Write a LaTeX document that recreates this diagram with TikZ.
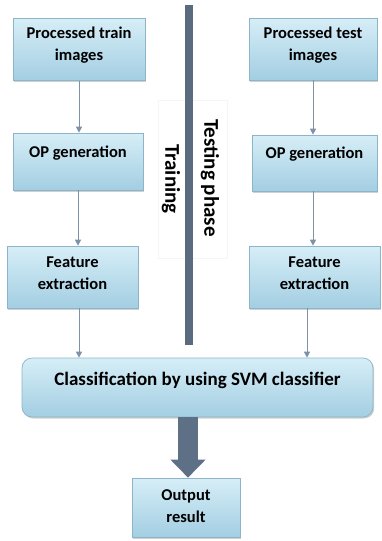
\documentclass[tikz,border=0pt]{standalone}
\usepackage{fontspec}
\setmainfont{Carlito}
\usetikzlibrary{shadows,arrows.meta,calc}
\definecolor{boxtop}{HTML}{D6EEF7}
\definecolor{boxbot}{HTML}{A3CEE2}
\definecolor{boxline}{HTML}{8DB4C8}
\definecolor{arrcol}{HTML}{7D91A8}
\definecolor{barcol}{HTML}{5B6B7F}
\definecolor{bigarr}{HTML}{5E7086}
\begin{document}
\begin{tikzpicture}[x=1pt,y=-1pt,
  stagebox/.style={draw=boxline, line width=0.7pt, top color=boxtop, bottom color=boxbot,
    align=center, font=\bfseries\fontsize{16.5}{22}\selectfont, inner sep=2pt,
    drop shadow={shadow xshift=1.2pt, shadow yshift=-1.5pt, opacity=0.3, fill=black!60}},
  flow/.style={draw=arrcol, line width=1pt, -{Triangle[length=6pt,width=6pt]}},
  phaselabel/.style={rotate=-90, font=\bfseries\fontsize{21}{24}\selectfont}]
\useasboundingbox (0,0) rectangle (382,541);
\fill[white] (0,0) rectangle (382,541);

% faint frame behind the training label
\draw[black!4, line width=0.5pt] (158,100) rectangle (227,258);

% separator between training and testing
\draw[barcol, line width=8pt] (189,5) -- (189,345);

% training column
\node[stagebox, minimum width=132pt, minimum height=62pt, text depth=11pt] (tr1) at (79,49.5) {Processed train\\images};
\node[stagebox, minimum width=130pt, minimum height=57pt, text depth=20pt] (tr2) at (78,161.5) {OP generation};
\node[stagebox, minimum width=131pt, minimum height=62pt, text depth=8pt] (tr3) at (72.5,277) {Feature\\extraction};

% testing column
\node[stagebox, minimum width=128pt, minimum height=62pt, text depth=10pt] (te1) at (313,49) {Processed test\\images};
\node[stagebox, minimum width=125pt, minimum height=56pt, text depth=20pt] (te2) at (314.5,163) {OP generation};
\node[stagebox, minimum width=131pt, minimum height=62pt, text depth=8pt] (te3) at (314.5,277) {Feature\\extraction};

% classifier and output
\node[stagebox, rounded corners=10pt, minimum width=351pt, minimum height=59pt, text depth=18pt,
  font=\bfseries\fontsize{19}{23}\selectfont] (cls) at (197.5,387.5) {Classification by using SVM classifier};
\node[stagebox, minimum width=108pt, minimum height=59pt, text depth=3pt] (out) at (186,507.5) {Output\\result};

% phase labels
\node[phaselabel] (trl) at (171,179) {Training};
\node[phaselabel] (tel) at (210,178) {Testing phase};

% connectors
\draw[flow] (tr1.south) -- (tr1.south |- tr2.north);
\draw[flow] (tr2.south) -- (tr2.south |- tr3.north);
\draw[flow] ([xshift=6.5pt]tr3.south) -- ([xshift=6.5pt]tr3.south |- cls.north);
\draw[flow] (te1.south) -- (te1.south |- te2.north);
\draw[flow] ([xshift=-1.5pt]te2.south) -- ([xshift=-1.5pt]te2.south |- te3.north);
\draw[flow] ([xshift=-7.5pt]te3.south) -- ([xshift=-7.5pt]te3.south |- cls.north);

% thick arrow to the result
\draw[bigarr, line width=20pt, -{Triangle[length=18pt,width=34pt]}]
  ([xshift=2pt]cls.south -| out.north) -- ([xshift=2pt]out.north);
\end{tikzpicture}
\end{document}
